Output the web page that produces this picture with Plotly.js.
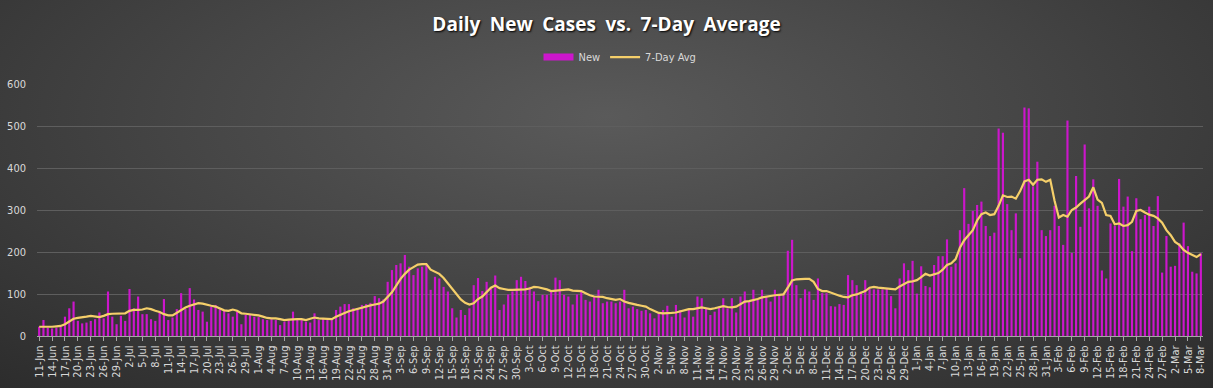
<!DOCTYPE html>
<html>
<head>
<meta charset="utf-8">
<script src="https://cdn.plot.ly/plotly-3.0.1.min.js"></script>
<style>
  html, body { margin: 0; padding: 0; }
  body {
    width: 1213px; height: 388px; overflow: hidden;
    background: radial-gradient(ellipse 75% 95% at 50% 30%, #5a5a5a 0%, #464646 45%, #2c2c2c 100%);
  }
  #chart { width: 1213px; height: 388px; }
</style>
</head>
<body>
<div id="chart"></div>
<script>
// ---- data ----
const startDate = '2020-06-11';   // first day (11-Jun), one value per day through 8-Mar
const newCases = [
  22,38,20,18,20,22,46,66,82,36, 30,32,36,40,56,42,106,46,28,48,
  36,112,66,94,52,52,40,36,58,88, 38,44,64,102,64,114,87,62,58,34,
  70,74,64,60,54,46,58,28,50,52, 46,45,
  40,38,40,38,26,34,38,58,40,38, 34,32,54,38,42,38,40,62,70,76,
  76,66,66,74,76,79,95,90,87,129, 157,169,173,193,165,145,161,165,169,110,
  141,137,117,106,66,44,62,50,66,121, 138,
  107,129,113,144,62,75,99,106,133,141, 131,117,106,83,98,98,106,139,133,98,
  94,75,99,106,86,82,94,110,78,82, 82,78,82,110,66,70,64,60,62,54,
  42,54,62,72,46,74,62,44,62,46,
  94,90,66,50,58,70,90,66,90,56, 94,106,82,110,86,110,94,82,110,98,
  102,203,229,121,90,111,106,86,137,102, 102,71,70,76,74,145,133,121,106,133,
  113,111,111,111,113,95,66,137,173,157, 179,
  101,166,119,116,169,190,190,230,165,173, 252,352,267,298,312,320,262,238,246,494,
  484,314,252,292,185,544,542,356,415,
  252,238,252,310,262,217,513,198,381,260, 456,304,373,310,156,137,268,262,374,
  308,332,202,328,278,288,308,262,333,151, 238,165,167,221,270,214,153,149,197
];
const avg7 = [
  22,22,21,22,23,24,28,34,41,43, 44,46,48,47,45,48,52,53,53,53,
  54,60,62,62,63,66,64,60,57,52, 49,49,55,63,68,72,75,78,77,74,
  72,70,66,61,60,63,60,54,53,52, 51,49,
  46,43,42,42,40,38,39,40,40,40, 38,41,44,42,41,40,40,46,51,55,
  59,62,65,68,70,73,75,77,82,92, 104,120,136,148,158,164,170,171,171,158,
  152,148,138,125,113,99,87,79,75,78, 88,
  94,104,115,120,114,112,110,110,110,110, 111,113,117,116,114,111,107,108,110,111,
  111,108,107,107,102,97,94,94,93,90, 88,86,88,82,79,76,74,72,70,64,
  59,55,54,54,55,56,59,61,64,64,
  66,68,66,64,66,68,71,69,68,70, 76,82,83,85,88,92,94,95,97,98,
  99,115,132,135,136,136,136,129,112,107, 107,103,99,96,93,92,97,99,103,107,
  115,117,115,114,113,113,111,118,124,129, 130,
  133,140,148,144,147,150,158,169,173,183, 210,228,240,252,275,290,294,288,290,310,
  335,331,332,327,345,368,372,360,372,
  373,367,372,322,282,288,284,300,306,315, 324,332,354,325,317,288,286,266,268,
  262,264,272,298,300,294,289,286,280,270, 252,240,224,217,205,198,192,188,195
];
const seriesNames = ['New', '7-Day Avg'];
const chartTitleWords = ['Daily', 'New', 'Cases', 'vs.', '7-Day', 'Average'];
const yTicks = [0, 100, 200, 300, 400, 500, 600];

const barColor = '#cc16cc';
const lineColor = '#f5cf6a';

// consecutive calendar days for the date axis
const t0 = Date.parse(startDate + 'T00:00:00Z');
const DAY = 86400000;
const dates = newCases.map((_, i) => new Date(t0 + i * DAY).toISOString().slice(0, 10));

const tickFont = { family: 'Liberation Sans Narrow, DejaVu Sans Condensed, Arial Narrow, sans-serif', size: 11, color: '#d9d9d9' };

const traces = [
  {
    type: 'bar', name: seriesNames[0], x: dates, y: newCases,
    marker: { color: barColor, line: { width: 0 } },
    showlegend: false, hoverinfo: 'x+y'
  },
  // legend key for the bars (wide flat swatch, as in the reference)
  {
    type: 'scatter', mode: 'lines', name: seriesNames[0], x: [null], y: [null],
    line: { color: barColor, width: 7 }, showlegend: true, hoverinfo: 'skip'
  },
  {
    type: 'scatter', mode: 'lines', name: seriesNames[1], x: dates, y: avg7,
    line: { color: lineColor, width: 2.2, shape: 'linear' },
    hoverinfo: 'x+y'
  }
];

const layout = {
  width: 1213, height: 388,
  paper_bgcolor: 'rgba(0,0,0,0)',
  plot_bgcolor: 'rgba(0,0,0,0)',
  margin: { l: 37, r: 10, t: 84, b: 52, pad: 0 },
  bargap: 0.5,
  title: {
    text: chartTitleWords.join('\u2002'),
    x: 0.5, xanchor: 'center',
    y: 0.938, yanchor: 'middle',
    font: { family: 'Open Sans, Noto Sans, sans-serif', size: 19, color: '#ffffff', weight: 700, shadow: '1px 1px 2px #000' }
  },
  showlegend: true,
  legend: {
    orientation: 'h', x: 0.5, xanchor: 'center', y: 1.107, yanchor: 'middle',
    font: { family: 'Liberation Sans Narrow, DejaVu Sans Condensed, sans-serif', size: 11, color: '#d9d9d9' },
    bgcolor: 'rgba(0,0,0,0)', itemwidth: 30, traceorder: 'normal'
  },
  xaxis: {
    type: 'date',
    range: [t0 - DAY / 2, t0 + (dates.length - 1) * DAY + DAY / 2],
    tick0: dates[0], dtick: 3 * DAY,
    tickformat: '%-d-%b',
    tickangle: -90,
    tickfont: tickFont,
    ticks: 'outside', ticklen: 4, tickcolor: '#a6a6a6', tickwidth: 1,
    showline: true, linecolor: '#a6a6a6', linewidth: 1,
    showgrid: false, zeroline: false, fixedrange: true
  },
  yaxis: {
    range: [0, 600],
    tickvals: yTicks,
    ticktext: yTicks.map(String),
    tickfont: tickFont,
    ticklabelstandoff: 10,
    showgrid: true, gridcolor: '#5e5e5e', gridwidth: 1,
    zeroline: false, showline: false, ticks: '', fixedrange: true
  }
};

Plotly.newPlot('chart', traces, layout, { displayModeBar: false, responsive: false });
</script>
</body>
</html>
